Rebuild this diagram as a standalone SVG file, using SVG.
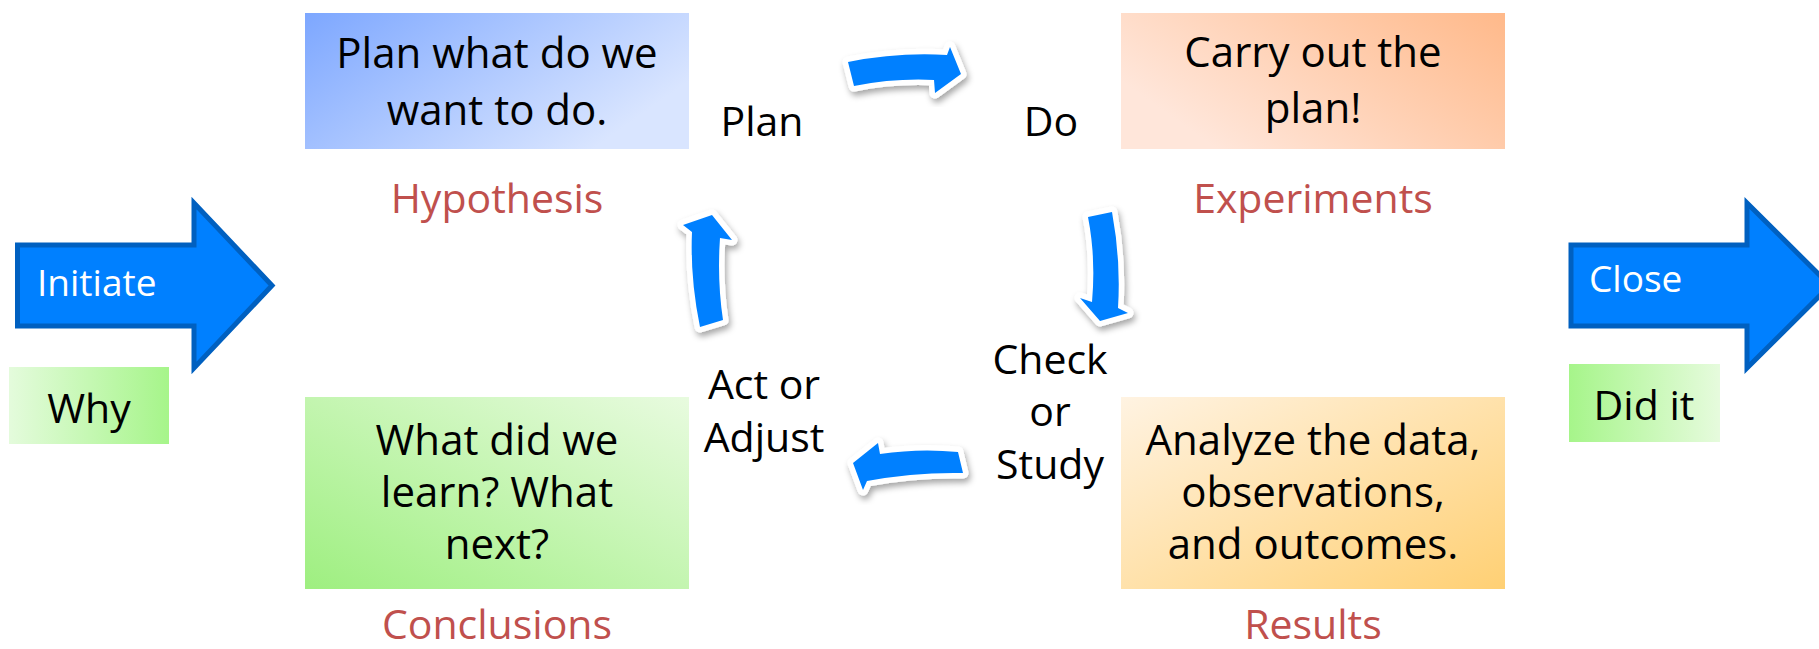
<svg xmlns="http://www.w3.org/2000/svg" width="1819" height="649" viewBox="0 0 1819 649">
<style>
.box{font-family:"Open Sans","Liberation Sans",sans-serif;font-size:42px;fill:#000;text-anchor:middle}
.lbl{font-family:"Open Sans","Liberation Sans",sans-serif;font-size:41px;fill:#000;text-anchor:middle}
.red{font-family:"Open Sans","Liberation Sans",sans-serif;font-size:41px;fill:#C0504D;text-anchor:middle}
.wht{font-family:"Open Sans","Liberation Sans",sans-serif;font-size:37px;fill:#fff}
.big{fill:#0080FF;stroke:#0060C0;stroke-width:5}
.cyc{fill:#0080FF;stroke:#fff;stroke-width:11;stroke-linejoin:round;paint-order:stroke;filter:url(#sh)}
</style>
<defs>
<filter id="sh" x="-30%" y="-30%" width="160%" height="160%">
<feDropShadow dx="2" dy="4" stdDeviation="3" flood-color="#000" flood-opacity="0.35"/>
</filter>
<linearGradient id="gPlan" x1="0" y1="0" x2="1" y2="0.5"><stop offset="0" stop-color="#7DA7FF"/><stop offset="1" stop-color="#D9E5FF"/></linearGradient>
<linearGradient id="gDo" x1="0" y1="0.5" x2="1" y2="0"><stop offset="0" stop-color="#FFE6DA"/><stop offset="1" stop-color="#FFB98A"/></linearGradient>
<linearGradient id="gRes" x1="0" y1="0" x2="1" y2="1"><stop offset="0" stop-color="#FFF3E2"/><stop offset="1" stop-color="#FFD074"/></linearGradient>
<linearGradient id="gCon" x1="0" y1="1" x2="1" y2="0"><stop offset="0" stop-color="#9EEF80"/><stop offset="1" stop-color="#E8FBDF"/></linearGradient>
<linearGradient id="gWhy" x1="0" y1="0" x2="1" y2="0"><stop offset="0" stop-color="#E4FBDC"/><stop offset="1" stop-color="#A6F58A"/></linearGradient>
<linearGradient id="gDid" x1="0" y1="0" x2="1" y2="0"><stop offset="0" stop-color="#A6F58A"/><stop offset="1" stop-color="#E6FBDD"/></linearGradient>
</defs>
<rect width="1819" height="649" fill="#fff"/>

<g id="initiate">
<polygon class="big" points="17.5,245 194,245 194,203 272,285.5 194,368 194,326 17.5,326"/>
<text class="wht" x="37" y="296">Initiate</text>
</g>
<g id="why">
<rect x="9" y="367" width="160" height="77" fill="url(#gWhy)"/>
<text class="lbl" x="89" y="423">Why</text>
</g>
<g id="close">
<polygon class="big" points="1571,245 1747,245 1747,203 1830,285.5 1747,368 1747,326 1571,326"/>
<text class="wht" x="1589" y="292">Close</text>
</g>
<g id="didit">
<rect x="1569" y="364" width="151" height="78" fill="url(#gDid)"/>
<text class="lbl" x="1644" y="420">Did it</text>
</g>

<g id="plan">
<rect x="305" y="13" width="384" height="136" fill="url(#gPlan)"/>
<text class="box" x="497" y="68">Plan what do we</text>
<text class="box" x="497" y="125">want to do.</text>
<text class="red" x="497" y="213">Hypothesis</text>
</g>
<g id="do">
<rect x="1121" y="13" width="384" height="136" fill="url(#gDo)"/>
<text class="box" x="1313" y="67">Carry out the</text>
<text class="box" x="1313" y="123">plan!</text>
<text class="red" x="1313" y="213">Experiments</text>
</g>
<g id="results">
<rect x="1121" y="397" width="384" height="192" fill="url(#gRes)"/>
<text class="box" x="1313" y="455">Analyze the data,</text>
<text class="box" x="1313" y="507">observations,</text>
<text class="box" x="1313" y="559">and outcomes.</text>
<text class="red" x="1313" y="639">Results</text>
</g>
<g id="conclusions">
<rect x="305" y="397" width="384" height="192" fill="url(#gCon)"/>
<text class="box" x="497" y="455">What did we</text>
<text class="box" x="497" y="507">learn? What</text>
<text class="box" x="497" y="559">next?</text>
<text class="red" x="497" y="639">Conclusions</text>
</g>

<g id="label-plan"><text class="lbl" x="762" y="136">Plan</text></g>
<g id="label-do"><text class="lbl" x="1051" y="136">Do</text></g>
<g id="label-check">
<text class="lbl" x="1050" y="374">Check</text>
<text class="lbl" x="1050" y="426">or</text>
<text class="lbl" x="1050" y="479">Study</text>
</g>
<g id="label-act">
<text class="lbl" x="764" y="399">Act or</text>
<text class="lbl" x="764" y="452">Adjust</text>
</g>

<g id="connectors">
<path class="cyc" d="M 848 62 Q 898 52 947 55 L 950 47 L 961 74 L 935 93 L 934 80 Q 895 78 854 86 Z"/>
<path class="cyc" d="M 1088 217 L 1112 212 Q 1121 260 1118 308 L 1128 313 L 1100 321 L 1080 298 L 1092 302 Q 1096 258 1088 217 Z"/>
<path class="cyc" d="M 958 452 L 963 473 Q 915 472 867 481 L 863 490 L 853 463 L 878 443 L 880 454 Q 920 448 958 452 Z"/>
<path class="cyc" d="M 700 327 Q 690 278 692 232 L 683 225 L 712 215 L 732 240 L 720 238 Q 717 280 723 320 Z"/>
</g>
</svg>
